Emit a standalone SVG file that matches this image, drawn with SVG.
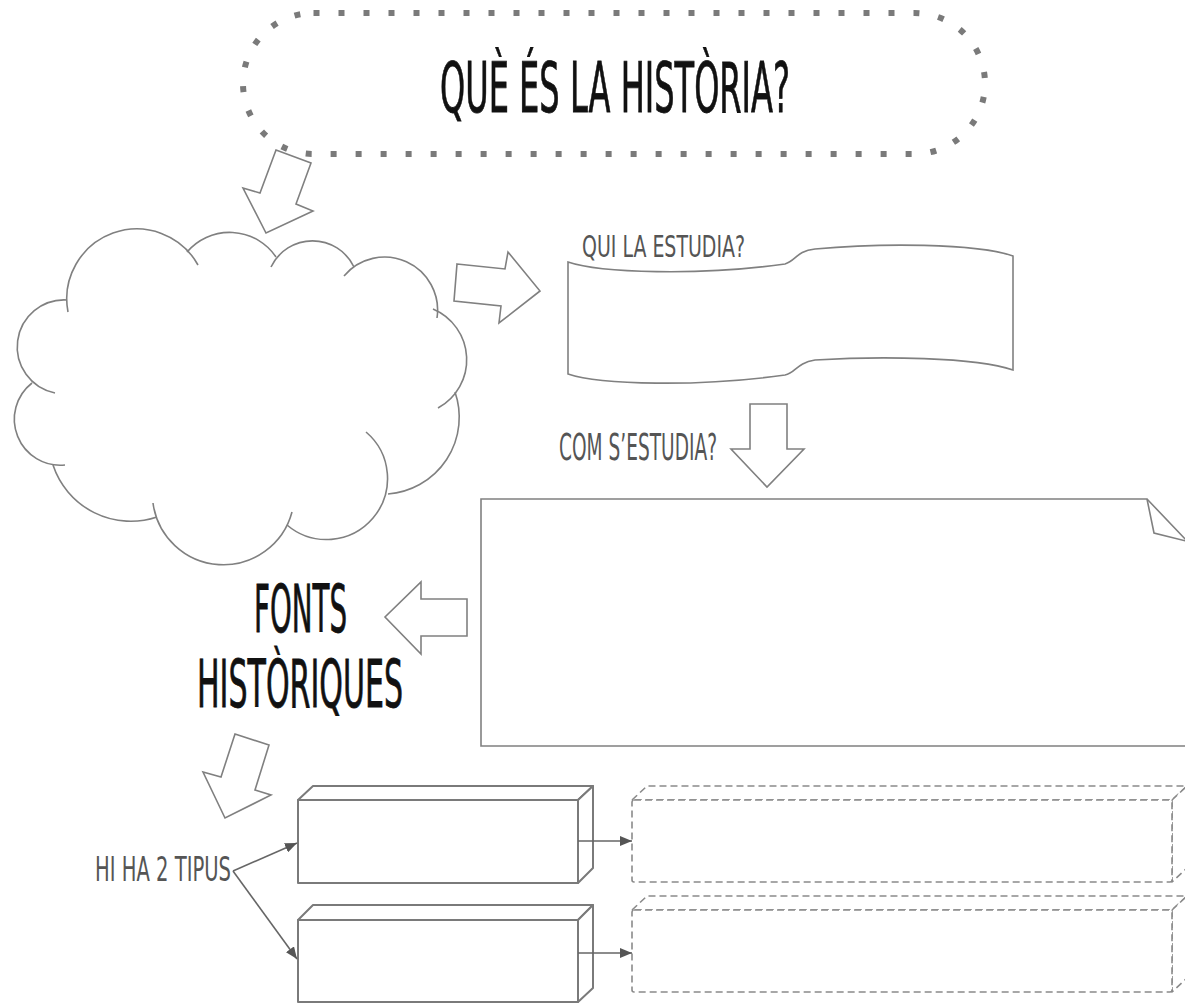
<svg xmlns="http://www.w3.org/2000/svg" width="1185" height="1003" viewBox="0 0 1185 1003">
  <style>
    .ln { fill: none; stroke: #808080; stroke-width: 1.6; stroke-linejoin: miter; }
    .sh { fill: #ffffff; stroke: #808080; stroke-width: 1.6; stroke-linejoin: miter; }
    .box { fill: #ffffff; stroke: #7a7a7a; stroke-width: 2; stroke-linejoin: round; }
    .dash { fill: #ffffff; stroke: #8a8a8a; stroke-width: 1.6; stroke-dasharray: 7 4; stroke-linejoin: round; }
    .con { fill: none; stroke: #666666; stroke-width: 1.6; }
    .big { font-family: "Liberation Sans Narrow", "DejaVu Sans Condensed", "Liberation Sans", sans-serif; font-weight: normal; fill: #111111; stroke: #111111; stroke-width: 0.8; }
    .lbl { font-family: "Liberation Sans Narrow", "DejaVu Sans Condensed", "Liberation Sans", sans-serif; font-weight: normal; fill: #555555; }
  </style>
  <defs>
    <marker id="ah" viewBox="0 0 12 10" refX="12" refY="5" markerWidth="12" markerHeight="10" markerUnits="userSpaceOnUse" orient="auto">
      <path d="M0,0 L12,5 L0,10 Z" fill="#555555"/>
    </marker>
  </defs>
  <rect width="1185" height="1003" fill="#ffffff"/>

  <g id="title">
    <rect x="243" y="13" width="742" height="141" rx="70.5" ry="70.5" fill="none" stroke="#7a7a7a" stroke-width="6" stroke-dasharray="6 19"/>
    <text class="big" x="440" y="112" font-size="70" textLength="350" lengthAdjust="spacingAndGlyphs">QUÈ ÉS LA HISTÒRIA?</text>
  </g>

  <g id="cloud" class="ln">
    <path d="M68,312 A70,70 0 0 1 198,265"/>
    <path d="M187,252 A56,56 0 0 1 276,257"/>
    <path d="M271,267 A46,46 0 0 1 354,267"/>
    <path d="M344,276 A53,53 0 0 1 437,318"/>
    <path d="M433,309 A55,55 0 0 1 438,408"/>
    <path d="M455,392 A77,77 0 0 1 388,494"/>
    <path d="M366,432 A60,60 0 1 1 287,525"/>
    <path d="M292,512 A71,71 0 0 1 153,503"/>
    <path d="M157,517 A82,82 0 0 1 53,465"/>
    <path d="M65,465 A46,46 0 0 1 32,383"/>
    <path d="M55,393 A47,47 0 0 1 67,300"/>
  </g>

  <g id="qui-la-estudia">
    <path class="sh" d="M568,262 C600,273 700,276 785,264 C796,261 796,251 815,249 C880,243 975,243 1013,256 L1013,370 C975,357 880,356 815,360 C796,363 796,373 785,375 C700,387 600,385 568,374 Z"/>
    <text class="lbl" x="582" y="257" font-size="31" textLength="163" lengthAdjust="spacingAndGlyphs">QUI LA ESTUDIA?</text>
  </g>

  <g id="com-s-estudia">
    <text class="lbl" x="559" y="460" font-size="38" textLength="158" lengthAdjust="spacingAndGlyphs">COM S’ESTUDIA?</text>
  </g>

  <g id="note">
    <path class="sh" d="M1147,499 H481 V746 H1187 V541 L1147,499 Z"/>
    <path class="ln" d="M1147,499 L1154,533 L1186,541"/>
  </g>

  <g id="fonts-historiques">
    <text class="big" x="254" y="632" font-size="65" textLength="93" lengthAdjust="spacingAndGlyphs">FONTS</text>
    <text class="big" x="197" y="707" font-size="65" textLength="206" lengthAdjust="spacingAndGlyphs">HISTÒRIQUES</text>
  </g>

  <g id="hi-ha-2-tipus">
    <text class="lbl" x="95" y="881" font-size="34" textLength="136" lengthAdjust="spacingAndGlyphs">HI HA 2 TIPUS</text>
  </g>

  <g id="type-1">
    <rect class="box" x="298" y="800" width="280" height="83"/>
    <polygon class="box" points="298,800 313,786 593,786 578,800"/>
    <polygon class="box" points="578,800 593,786 593,868 578,883"/>
  </g>
  <g id="type-2">
    <rect class="box" x="298" y="920" width="280" height="82"/>
    <polygon class="box" points="298,920 313,905 593,905 578,920"/>
    <polygon class="box" points="578,920 593,905 593,988 578,1002"/>
  </g>

  <g id="detail-1">
    <polygon class="dash" points="632,800 647,786 1187,786 1172,800"/>
    <polygon class="dash" points="1172,800 1187,786 1187,868 1172,882"/>
    <rect class="dash" x="632" y="800" width="540" height="82" rx="2"/>
  </g>
  <g id="detail-2">
    <polygon class="dash" points="632,910 647,896 1187,896 1172,910"/>
    <polygon class="dash" points="1172,910 1187,896 1187,978 1172,992"/>
    <rect class="dash" x="632" y="910" width="540" height="82" rx="2"/>
  </g>

  <g id="connectors">
    <polygon class="sh" points="276,150 311,163 296,204 313,211 266,233 243,188 260,193"/>
    <polygon class="sh" points="457,264 505,269 508,252 540,291 499,323 501,306 454,301"/>
    <polygon class="sh" points="750,404 787,404 787,449 804,449 767,487 731,449 750,449"/>
    <polygon class="sh" points="467,599 421,599 421,582 385,617 421,654 421,636 467,636"/>
    <polygon class="sh" points="235,734 269,745 255,790 271,795 225,818 203,772 221,777"/>
    <line class="con" x1="233" y1="871" x2="297" y2="843" marker-end="url(#ah)"/>
    <line class="con" x1="233" y1="871" x2="297" y2="959" marker-end="url(#ah)"/>
    <line class="con" x1="578" y1="841" x2="632" y2="841" marker-end="url(#ah)"/>
    <line class="con" x1="578" y1="953" x2="632" y2="953" marker-end="url(#ah)"/>
  </g>
</svg>
